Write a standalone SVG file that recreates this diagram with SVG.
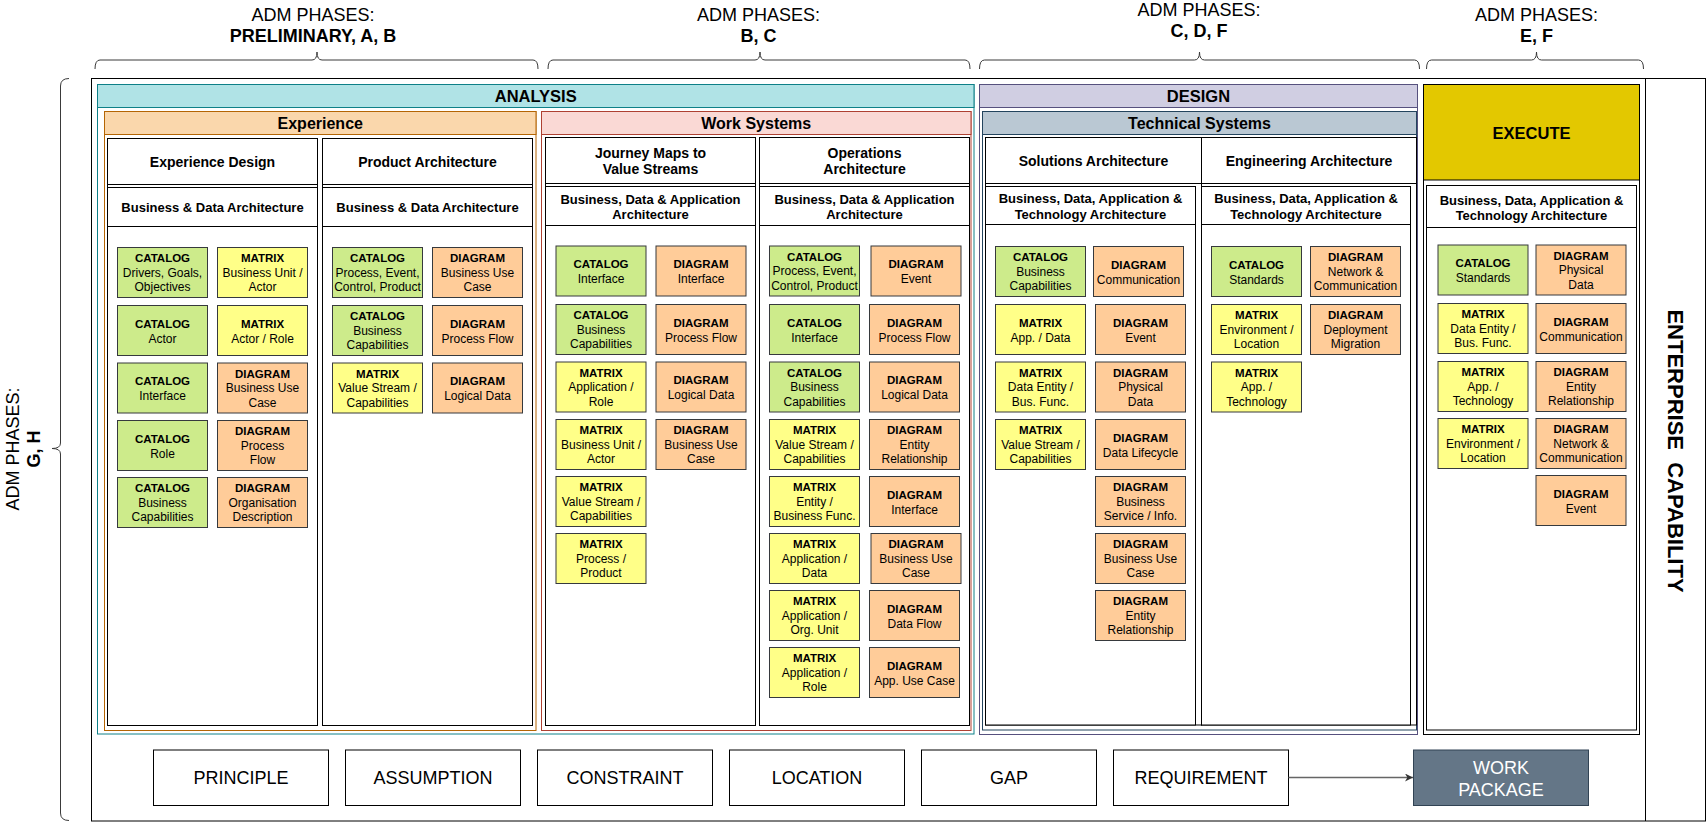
<svg xmlns="http://www.w3.org/2000/svg" width="1706" height="824" viewBox="0 0 1706 824">
<defs>
<style>
text{font-family:"Liberation Sans",Arial,Helvetica,sans-serif;fill:#000}
.m{text-anchor:middle}
.cat{fill:#cdeb8b;stroke:#36393d;stroke-width:1}
.mat{fill:#ffff88;stroke:#36393d;stroke-width:1}
.dia{fill:#ffcc99;stroke:#36393d;stroke-width:1}
.c text{text-anchor:middle;font-size:12px}
.k{font-weight:bold;font-size:11.5px}
.box{fill:#fff;stroke:#000;stroke-width:1}
.ln{fill:none;stroke:#000;stroke-width:1}
.br{fill:none;stroke:#3a3a3a;stroke-width:1}
.top{font-size:18px;text-anchor:middle}
.sec{font-size:16.5px;font-weight:bold;text-anchor:middle}
.sec2{font-size:16px;font-weight:bold;text-anchor:middle}
.col{font-size:14px;font-weight:bold;text-anchor:middle}
.sub{font-size:13px;font-weight:bold;text-anchor:middle}
.bot{font-size:18px;text-anchor:middle}
</style>
<marker id="arr" viewBox="0 0 10 10" refX="10" refY="5" markerWidth="8" markerHeight="8" markerUnits="userSpaceOnUse" orient="auto">
<path d="M0,0 L10,5 L0,10 L3,5 z" fill="#333"/>
</marker>
</defs>
<rect width="1706" height="824" fill="#fff"/>

<g id="phase-labels">
<text class="top" x="313" y="21">ADM PHASES:</text>
<text class="top" x="313" y="42" font-weight="bold">PRELIMINARY, A, B</text>
<text class="top" x="758.5" y="21">ADM PHASES:</text>
<text class="top" x="758.5" y="42" font-weight="bold">B, C</text>
<text class="top" x="1199" y="16">ADM PHASES:</text>
<text class="top" x="1199" y="37" font-weight="bold">C, D, F</text>
<text class="top" x="1536.5" y="21">ADM PHASES:</text>
<text class="top" x="1536.5" y="42" font-weight="bold">E, F</text>
<text class="top" transform="translate(18.5,449) rotate(-90)" x="0" y="0">ADM PHASES:</text>
<text class="top" transform="translate(40,449) rotate(-90)" x="0" y="0" font-weight="bold">G, H</text>
</g>

<g id="brackets">
<path class="br" d="M95,69 Q95,60 100,60 L312,60 Q317,60 317,52 Q317,60 322,60 L533,60 Q538,60 538,69"/>
<path class="br" d="M548,69 Q548,60 553,60 L755,60 Q760,60 760,52 Q760,60 765,60 L965,60 Q970,60 970,69"/>
<path class="br" d="M979.5,69 Q979.5,60 984.5,60 L1194.5,60 Q1199.5,60 1199.5,52 Q1199.5,60 1204.5,60 L1414.5,60 Q1419.5,60 1419.5,69"/>
<path class="br" d="M1426.5,69 Q1426.5,60 1431.5,60 L1531.5,60 Q1536.5,60 1536.5,52 Q1536.5,60 1541.5,60 L1638.5,60 Q1643.5,60 1643.5,69"/>
<path class="br" d="M69,78.5 Q60.5,78.5 60.5,86 L60.5,443 Q60.5,448.5 52,448.5 Q60.5,448.5 60.5,454 L60.5,813 Q60.5,820.5 69,820.5"/>
</g>

<g id="enterprise-capability">
<rect class="box" x="91.5" y="78.5" width="1614" height="742.5"/>
<line class="ln" x1="1645.5" y1="78.5" x2="1645.5" y2="821"/>
<text transform="translate(1668,451) rotate(90)" x="0" y="0" text-anchor="middle" font-size="22" font-weight="bold" xml:space="preserve">ENTERPRISE  CAPABILITY</text>
</g>

<g id="analysis">
<rect x="97.5" y="84.5" width="876.5" height="649.5" fill="#fff" stroke="#0e8088"/>
<rect x="97.5" y="84.5" width="876.5" height="23" fill="#b0e3e6" stroke="#0e8088"/>
<text class="sec" x="535.75" y="101.5">ANALYSIS</text>
</g>
<g id="experience">
<rect x="104.5" y="111.5" width="431.5" height="619" fill="#fff" stroke="#b46504"/>
<rect x="104.5" y="111.5" width="431.5" height="23" fill="#fad7ac" stroke="#b46504"/>
<text class="sec2" x="320.25" y="129">Experience</text>
</g>
<g id="work-systems">
<rect x="541.5" y="111.5" width="429.5" height="619" fill="#fff" stroke="#ae4132"/>
<rect x="541.5" y="111.5" width="429.5" height="23" fill="#fad9d5" stroke="#ae4132"/>
<text class="sec2" x="756.25" y="129">Work Systems</text>
</g>
<g id="design">
<rect x="979.5" y="84.5" width="438" height="650" fill="#fff" stroke="#56517e"/>
<rect x="979.5" y="84.5" width="438" height="23" fill="#d0cee2" stroke="#56517e"/>
<text class="sec" x="1198.5" y="101.5">DESIGN</text>
</g>
<g id="technical-systems">
<rect x="982.5" y="111.5" width="434" height="618.5" fill="#fff" stroke="#23445d"/>
<rect x="982.5" y="111.5" width="434" height="23" fill="#bac8d3" stroke="#23445d"/>
<text class="sec2" x="1199.5" y="129">Technical Systems</text>
</g>
<g id="execute">
<rect class="box" x="1423.5" y="84.5" width="216" height="650"/>
<rect x="1423.5" y="84.5" width="216" height="95.5" fill="#e3c800" stroke="#000"/>
<text class="sec" x="1531.5" y="138.5">EXECUTE</text>
<rect class="box" x="1426.5" y="185.5" width="210" height="544.5"/>
<line class="ln" x1="1426.5" y1="227.5" x2="1636.5" y2="227.5"/>
<text class="sub" x="1531.5" y="204.5">Business, Data, Application &amp;</text>
<text class="sub" x="1531.5" y="219.8">Technology Architecture</text>
</g>

<g id="col-experience-design">
<rect class="box" x="107.5" y="138.5" width="210" height="587"/>
<line class="ln" x1="107.5" y1="184.5" x2="317.5" y2="184.5"/>
<line class="ln" x1="107.5" y1="187.5" x2="317.5" y2="187.5"/>
<line class="ln" x1="107.5" y1="226.5" x2="317.5" y2="226.5"/>
<text class="col" x="212.5" y="166.5">Experience Design</text>
<text class="sub" x="212.5" y="211.5">Business &amp; Data Architecture</text>
</g>
<g id="col-product-architecture">
<rect class="box" x="322.5" y="138.5" width="210" height="587"/>
<line class="ln" x1="322.5" y1="184.5" x2="532.5" y2="184.5"/>
<line class="ln" x1="322.5" y1="187.5" x2="532.5" y2="187.5"/>
<line class="ln" x1="322.5" y1="226.5" x2="532.5" y2="226.5"/>
<text class="col" x="427.5" y="166.5">Product Architecture</text>
<text class="sub" x="427.5" y="211.5">Business &amp; Data Architecture</text>
</g>
<g id="col-journey-maps">
<rect class="box" x="545.5" y="137.5" width="210" height="588"/>
<line class="ln" x1="545.5" y1="183.5" x2="755.5" y2="183.5"/>
<line class="ln" x1="545.5" y1="186.5" x2="755.5" y2="186.5"/>
<line class="ln" x1="545.5" y1="225.5" x2="755.5" y2="225.5"/>
<text class="col" x="650.5" y="157.5">Journey Maps to</text>
<text class="col" x="650.5" y="174">Value Streams</text>
<text class="sub" x="650.5" y="203.5">Business, Data &amp; Application</text>
<text class="sub" x="650.5" y="219.3">Architecture</text>
</g>
<g id="col-operations-architecture">
<rect class="box" x="759.5" y="137.5" width="210" height="588"/>
<line class="ln" x1="759.5" y1="183.5" x2="969.5" y2="183.5"/>
<line class="ln" x1="759.5" y1="186.5" x2="969.5" y2="186.5"/>
<line class="ln" x1="759.5" y1="225.5" x2="969.5" y2="225.5"/>
<text class="col" x="864.5" y="157.5">Operations</text>
<text class="col" x="864.5" y="174">Architecture</text>
<text class="sub" x="864.5" y="203.5">Business, Data &amp; Application</text>
<text class="sub" x="864.5" y="219.3">Architecture</text>
</g>
<g id="col-solutions-architecture">
<rect class="box" x="985.5" y="137.5" width="216" height="587.5"/>
<line class="ln" x1="985.5" y1="183.5" x2="1201.5" y2="183.5"/>
<rect class="box" x="985.5" y="186.5" width="210" height="538.5"/>
<line class="ln" x1="985.5" y1="224.5" x2="1195.5" y2="224.5"/>
<text class="col" x="1093.5" y="165.5">Solutions Architecture</text>
<text class="sub" x="1090.5" y="202.6">Business, Data, Application &amp;</text>
<text class="sub" x="1090.5" y="218.6">Technology Architecture</text>
</g>
<g id="col-engineering-architecture">
<rect class="box" x="1201.5" y="137.5" width="215" height="587.5"/>
<line class="ln" x1="1201.5" y1="183.5" x2="1416.5" y2="183.5"/>
<rect class="box" x="1201.5" y="186.5" width="209" height="538.5"/>
<line class="ln" x1="1201.5" y1="224.5" x2="1410.5" y2="224.5"/>
<text class="col" x="1309" y="165.5">Engineering Architecture</text>
<text class="sub" x="1306" y="202.6">Business, Data, Application &amp;</text>
<text class="sub" x="1306" y="218.6">Technology Architecture</text>
</g>

<!-- Experience Design cards -->
<g id="e1" class="c" transform="translate(117.5,247.5)"><rect class="cat" width="90" height="50"/><text><tspan class="k" x="45" y="14.8">CATALOG</tspan><tspan x="45" y="29.3">Drivers, Goals,</tspan><tspan x="45" y="43.8">Objectives</tspan></text></g>
<g id="e2" class="c" transform="translate(217.5,247.5)"><rect class="mat" width="90" height="50"/><text><tspan class="k" x="45" y="14.8">MATRIX</tspan><tspan x="45" y="29.3">Business Unit /</tspan><tspan x="45" y="43.8">Actor</tspan></text></g>
<g id="e3" class="c" transform="translate(117.5,305.5)"><rect class="cat" width="90" height="50"/><text><tspan class="k" x="45" y="22.2">CATALOG</tspan><tspan x="45" y="37.2">Actor</tspan></text></g>
<g id="e4" class="c" transform="translate(217.5,305.5)"><rect class="mat" width="90" height="50"/><text><tspan class="k" x="45" y="22.2">MATRIX</tspan><tspan x="45" y="37.2">Actor / Role</tspan></text></g>
<g id="e5" class="c" transform="translate(117.5,363)"><rect class="cat" width="90" height="50"/><text><tspan class="k" x="45" y="22.2">CATALOG</tspan><tspan x="45" y="37.2">Interface</tspan></text></g>
<g id="e6" class="c" transform="translate(217.5,363)"><rect class="dia" width="90" height="50"/><text><tspan class="k" x="45" y="14.8">DIAGRAM</tspan><tspan x="45" y="29.3">Business Use</tspan><tspan x="45" y="43.8">Case</tspan></text></g>
<g id="e7" class="c" transform="translate(117.5,420.5)"><rect class="cat" width="90" height="50"/><text><tspan class="k" x="45" y="22.2">CATALOG</tspan><tspan x="45" y="37.2">Role</tspan></text></g>
<g id="e8" class="c" transform="translate(217.5,420.5)"><rect class="dia" width="90" height="50"/><text><tspan class="k" x="45" y="14.8">DIAGRAM</tspan><tspan x="45" y="29.3">Process</tspan><tspan x="45" y="43.8">Flow</tspan></text></g>
<g id="e9" class="c" transform="translate(117.5,477.5)"><rect class="cat" width="90" height="50"/><text><tspan class="k" x="45" y="14.8">CATALOG</tspan><tspan x="45" y="29.3">Business</tspan><tspan x="45" y="43.8">Capabilities</tspan></text></g>
<g id="e10" class="c" transform="translate(217.5,477.5)"><rect class="dia" width="90" height="50"/><text><tspan class="k" x="45" y="14.8">DIAGRAM</tspan><tspan x="45" y="29.3">Organisation</tspan><tspan x="45" y="43.8">Description</tspan></text></g>

<!-- Product Architecture cards -->
<g id="p1" class="c" transform="translate(332.5,247.5)"><rect class="cat" width="90" height="50"/><text><tspan class="k" x="45" y="14.8">CATALOG</tspan><tspan x="45" y="29.3">Process, Event,</tspan><tspan x="45" y="43.8">Control, Product</tspan></text></g>
<g id="p2" class="c" transform="translate(432.5,247.5)"><rect class="dia" width="90" height="50"/><text><tspan class="k" x="45" y="14.8">DIAGRAM</tspan><tspan x="45" y="29.3">Business Use</tspan><tspan x="45" y="43.8">Case</tspan></text></g>
<g id="p3" class="c" transform="translate(332.5,305.5)"><rect class="cat" width="90" height="50"/><text><tspan class="k" x="45" y="14.8">CATALOG</tspan><tspan x="45" y="29.3">Business</tspan><tspan x="45" y="43.8">Capabilities</tspan></text></g>
<g id="p4" class="c" transform="translate(432.5,305.5)"><rect class="dia" width="90" height="50"/><text><tspan class="k" x="45" y="22.2">DIAGRAM</tspan><tspan x="45" y="37.2">Process Flow</tspan></text></g>
<g id="p5" class="c" transform="translate(332.5,363)"><rect class="mat" width="90" height="50"/><text><tspan class="k" x="45" y="14.8">MATRIX</tspan><tspan x="45" y="29.3">Value Stream /</tspan><tspan x="45" y="43.8">Capabilities</tspan></text></g>
<g id="p6" class="c" transform="translate(432.5,363)"><rect class="dia" width="90" height="50"/><text><tspan class="k" x="45" y="22.2">DIAGRAM</tspan><tspan x="45" y="37.2">Logical Data</tspan></text></g>

<!-- Journey Maps cards -->
<g id="j1" class="c" transform="translate(556,246)"><rect class="cat" width="90" height="50"/><text><tspan class="k" x="45" y="22.2">CATALOG</tspan><tspan x="45" y="37.2">Interface</tspan></text></g>
<g id="j2" class="c" transform="translate(656,246)"><rect class="dia" width="90" height="50"/><text><tspan class="k" x="45" y="22.2">DIAGRAM</tspan><tspan x="45" y="37.2">Interface</tspan></text></g>
<g id="j3" class="c" transform="translate(556,304.5)"><rect class="cat" width="90" height="50"/><text><tspan class="k" x="45" y="14.8">CATALOG</tspan><tspan x="45" y="29.3">Business</tspan><tspan x="45" y="43.8">Capabilities</tspan></text></g>
<g id="j4" class="c" transform="translate(656,304.5)"><rect class="dia" width="90" height="50"/><text><tspan class="k" x="45" y="22.2">DIAGRAM</tspan><tspan x="45" y="37.2">Process Flow</tspan></text></g>
<g id="j5" class="c" transform="translate(556,362)"><rect class="mat" width="90" height="50"/><text><tspan class="k" x="45" y="14.8">MATRIX</tspan><tspan x="45" y="29.3">Application /</tspan><tspan x="45" y="43.8">Role</tspan></text></g>
<g id="j6" class="c" transform="translate(656,362)"><rect class="dia" width="90" height="50"/><text><tspan class="k" x="45" y="22.2">DIAGRAM</tspan><tspan x="45" y="37.2">Logical Data</tspan></text></g>
<g id="j7" class="c" transform="translate(556,419.5)"><rect class="mat" width="90" height="50"/><text><tspan class="k" x="45" y="14.8">MATRIX</tspan><tspan x="45" y="29.3">Business Unit /</tspan><tspan x="45" y="43.8">Actor</tspan></text></g>
<g id="j8" class="c" transform="translate(656,419.5)"><rect class="dia" width="90" height="50"/><text><tspan class="k" x="45" y="14.8">DIAGRAM</tspan><tspan x="45" y="29.3">Business Use</tspan><tspan x="45" y="43.8">Case</tspan></text></g>
<g id="j9" class="c" transform="translate(556,476.5)"><rect class="mat" width="90" height="50"/><text><tspan class="k" x="45" y="14.8">MATRIX</tspan><tspan x="45" y="29.3">Value Stream /</tspan><tspan x="45" y="43.8">Capabilities</tspan></text></g>
<g id="j10" class="c" transform="translate(556,533.5)"><rect class="mat" width="90" height="50"/><text><tspan class="k" x="45" y="14.8">MATRIX</tspan><tspan x="45" y="29.3">Process /</tspan><tspan x="45" y="43.8">Product</tspan></text></g>

<!-- Operations Architecture cards -->
<g id="o1" class="c" transform="translate(769.5,246)"><rect class="cat" width="90" height="50"/><text><tspan class="k" x="45" y="14.8">CATALOG</tspan><tspan x="45" y="29.3">Process, Event,</tspan><tspan x="45" y="43.8">Control, Product</tspan></text></g>
<g id="o2" class="c" transform="translate(871,246)"><rect class="dia" width="90" height="50"/><text><tspan class="k" x="45" y="22.2">DIAGRAM</tspan><tspan x="45" y="37.2">Event</tspan></text></g>
<g id="o3" class="c" transform="translate(769.5,304.5)"><rect class="cat" width="90" height="50"/><text><tspan class="k" x="45" y="22.2">CATALOG</tspan><tspan x="45" y="37.2">Interface</tspan></text></g>
<g id="o4" class="c" transform="translate(869.5,304.5)"><rect class="dia" width="90" height="50"/><text><tspan class="k" x="45" y="22.2">DIAGRAM</tspan><tspan x="45" y="37.2">Process Flow</tspan></text></g>
<g id="o5" class="c" transform="translate(769.5,362)"><rect class="cat" width="90" height="50"/><text><tspan class="k" x="45" y="14.8">CATALOG</tspan><tspan x="45" y="29.3">Business</tspan><tspan x="45" y="43.8">Capabilities</tspan></text></g>
<g id="o6" class="c" transform="translate(869.5,362)"><rect class="dia" width="90" height="50"/><text><tspan class="k" x="45" y="22.2">DIAGRAM</tspan><tspan x="45" y="37.2">Logical Data</tspan></text></g>
<g id="o7" class="c" transform="translate(769.5,419.5)"><rect class="mat" width="90" height="50"/><text><tspan class="k" x="45" y="14.8">MATRIX</tspan><tspan x="45" y="29.3">Value Stream /</tspan><tspan x="45" y="43.8">Capabilities</tspan></text></g>
<g id="o8" class="c" transform="translate(869.5,419.5)"><rect class="dia" width="90" height="50"/><text><tspan class="k" x="45" y="14.8">DIAGRAM</tspan><tspan x="45" y="29.3">Entity</tspan><tspan x="45" y="43.8">Relationship</tspan></text></g>
<g id="o9" class="c" transform="translate(769.5,476.5)"><rect class="mat" width="90" height="50"/><text><tspan class="k" x="45" y="14.8">MATRIX</tspan><tspan x="45" y="29.3">Entity /</tspan><tspan x="45" y="43.8">Business Func.</tspan></text></g>
<g id="o10" class="c" transform="translate(869.5,476.5)"><rect class="dia" width="90" height="50"/><text><tspan class="k" x="45" y="22.2">DIAGRAM</tspan><tspan x="45" y="37.2">Interface</tspan></text></g>
<g id="o11" class="c" transform="translate(769.5,533.5)"><rect class="mat" width="90" height="50"/><text><tspan class="k" x="45" y="14.8">MATRIX</tspan><tspan x="45" y="29.3">Application /</tspan><tspan x="45" y="43.8">Data</tspan></text></g>
<g id="o12" class="c" transform="translate(871,533.5)"><rect class="dia" width="90" height="50"/><text><tspan class="k" x="45" y="14.8">DIAGRAM</tspan><tspan x="45" y="29.3">Business Use</tspan><tspan x="45" y="43.8">Case</tspan></text></g>
<g id="o13" class="c" transform="translate(769.5,590.5)"><rect class="mat" width="90" height="50"/><text><tspan class="k" x="45" y="14.8">MATRIX</tspan><tspan x="45" y="29.3">Application /</tspan><tspan x="45" y="43.8">Org. Unit</tspan></text></g>
<g id="o14" class="c" transform="translate(869.5,590.5)"><rect class="dia" width="90" height="50"/><text><tspan class="k" x="45" y="22.2">DIAGRAM</tspan><tspan x="45" y="37.2">Data Flow</tspan></text></g>
<g id="o15" class="c" transform="translate(769.5,647.5)"><rect class="mat" width="90" height="50"/><text><tspan class="k" x="45" y="14.8">MATRIX</tspan><tspan x="45" y="29.3">Application /</tspan><tspan x="45" y="43.8">Role</tspan></text></g>
<g id="o16" class="c" transform="translate(869.5,647.5)"><rect class="dia" width="90" height="50"/><text><tspan class="k" x="45" y="22.2">DIAGRAM</tspan><tspan x="45" y="37.2">App. Use Case</tspan></text></g>

<!-- Solutions Architecture cards -->
<g id="s1" class="c" transform="translate(995.5,246.5)"><rect class="cat" width="90" height="50"/><text><tspan class="k" x="45" y="14.8">CATALOG</tspan><tspan x="45" y="29.3">Business</tspan><tspan x="45" y="43.8">Capabilities</tspan></text></g>
<g id="s2" class="c" transform="translate(1093.5,246.5)"><rect class="dia" width="90" height="50"/><text><tspan class="k" x="45" y="22.2">DIAGRAM</tspan><tspan x="45" y="37.2">Communication</tspan></text></g>
<g id="s3" class="c" transform="translate(995.5,304.5)"><rect class="mat" width="90" height="50"/><text><tspan class="k" x="45" y="22.2">MATRIX</tspan><tspan x="45" y="37.2">App. / Data</tspan></text></g>
<g id="s4" class="c" transform="translate(1095.5,304.5)"><rect class="dia" width="90" height="50"/><text><tspan class="k" x="45" y="22.2">DIAGRAM</tspan><tspan x="45" y="37.2">Event</tspan></text></g>
<g id="s5" class="c" transform="translate(995.5,362)"><rect class="mat" width="90" height="50"/><text><tspan class="k" x="45" y="14.8">MATRIX</tspan><tspan x="45" y="29.3">Data Entity /</tspan><tspan x="45" y="43.8">Bus. Func.</tspan></text></g>
<g id="s6" class="c" transform="translate(1095.5,362)"><rect class="dia" width="90" height="50"/><text><tspan class="k" x="45" y="14.8">DIAGRAM</tspan><tspan x="45" y="29.3">Physical</tspan><tspan x="45" y="43.8">Data</tspan></text></g>
<g id="s7" class="c" transform="translate(995.5,419.5)"><rect class="mat" width="90" height="50"/><text><tspan class="k" x="45" y="14.8">MATRIX</tspan><tspan x="45" y="29.3">Value Stream /</tspan><tspan x="45" y="43.8">Capabilities</tspan></text></g>
<g id="s8" class="c" transform="translate(1095.5,419.5)"><rect class="dia" width="90" height="50"/><text><tspan class="k" x="45" y="22.2">DIAGRAM</tspan><tspan x="45" y="37.2">Data Lifecycle</tspan></text></g>
<g id="s9" class="c" transform="translate(1095.5,476.5)"><rect class="dia" width="90" height="50"/><text><tspan class="k" x="45" y="14.8">DIAGRAM</tspan><tspan x="45" y="29.3">Business</tspan><tspan x="45" y="43.8">Service / Info.</tspan></text></g>
<g id="s10" class="c" transform="translate(1095.5,533.5)"><rect class="dia" width="90" height="50"/><text><tspan class="k" x="45" y="14.8">DIAGRAM</tspan><tspan x="45" y="29.3">Business Use</tspan><tspan x="45" y="43.8">Case</tspan></text></g>
<g id="s11" class="c" transform="translate(1095.5,590.5)"><rect class="dia" width="90" height="50"/><text><tspan class="k" x="45" y="14.8">DIAGRAM</tspan><tspan x="45" y="29.3">Entity</tspan><tspan x="45" y="43.8">Relationship</tspan></text></g>

<!-- Engineering Architecture cards -->
<g id="g1" class="c" transform="translate(1211.5,246.5)"><rect class="cat" width="90" height="50"/><text><tspan class="k" x="45" y="22.2">CATALOG</tspan><tspan x="45" y="37.2">Standards</tspan></text></g>
<g id="g2" class="c" transform="translate(1310.5,246.5)"><rect class="dia" width="90" height="50"/><text><tspan class="k" x="45" y="14.8">DIAGRAM</tspan><tspan x="45" y="29.3">Network &amp;</tspan><tspan x="45" y="43.8">Communication</tspan></text></g>
<g id="g3" class="c" transform="translate(1211.5,304.5)"><rect class="mat" width="90" height="50"/><text><tspan class="k" x="45" y="14.8">MATRIX</tspan><tspan x="45" y="29.3">Environment /</tspan><tspan x="45" y="43.8">Location</tspan></text></g>
<g id="g4" class="c" transform="translate(1310.5,304.5)"><rect class="dia" width="90" height="50"/><text><tspan class="k" x="45" y="14.8">DIAGRAM</tspan><tspan x="45" y="29.3">Deployment</tspan><tspan x="45" y="43.8">Migration</tspan></text></g>
<g id="g5" class="c" transform="translate(1211.5,362)"><rect class="mat" width="90" height="50"/><text><tspan class="k" x="45" y="14.8">MATRIX</tspan><tspan x="45" y="29.3">App. /</tspan><tspan x="45" y="43.8">Technology</tspan></text></g>

<!-- Execute cards -->
<g id="x1" class="c" transform="translate(1438,245)"><rect class="cat" width="90" height="50"/><text><tspan class="k" x="45" y="22.2">CATALOG</tspan><tspan x="45" y="37.2">Standards</tspan></text></g>
<g id="x2" class="c" transform="translate(1536,245)"><rect class="dia" width="90" height="50"/><text><tspan class="k" x="45" y="14.8">DIAGRAM</tspan><tspan x="45" y="29.3">Physical</tspan><tspan x="45" y="43.8">Data</tspan></text></g>
<g id="x3" class="c" transform="translate(1438,303.5)"><rect class="mat" width="90" height="50"/><text><tspan class="k" x="45" y="14.8">MATRIX</tspan><tspan x="45" y="29.3">Data Entity /</tspan><tspan x="45" y="43.8">Bus. Func.</tspan></text></g>
<g id="x4" class="c" transform="translate(1536,303.5)"><rect class="dia" width="90" height="50"/><text><tspan class="k" x="45" y="22.2">DIAGRAM</tspan><tspan x="45" y="37.2">Communication</tspan></text></g>
<g id="x5" class="c" transform="translate(1438,361.5)"><rect class="mat" width="90" height="50"/><text><tspan class="k" x="45" y="14.8">MATRIX</tspan><tspan x="45" y="29.3">App. /</tspan><tspan x="45" y="43.8">Technology</tspan></text></g>
<g id="x6" class="c" transform="translate(1536,361.5)"><rect class="dia" width="90" height="50"/><text><tspan class="k" x="45" y="14.8">DIAGRAM</tspan><tspan x="45" y="29.3">Entity</tspan><tspan x="45" y="43.8">Relationship</tspan></text></g>
<g id="x7" class="c" transform="translate(1438,418.5)"><rect class="mat" width="90" height="50"/><text><tspan class="k" x="45" y="14.8">MATRIX</tspan><tspan x="45" y="29.3">Environment /</tspan><tspan x="45" y="43.8">Location</tspan></text></g>
<g id="x8" class="c" transform="translate(1536,418.5)"><rect class="dia" width="90" height="50"/><text><tspan class="k" x="45" y="14.8">DIAGRAM</tspan><tspan x="45" y="29.3">Network &amp;</tspan><tspan x="45" y="43.8">Communication</tspan></text></g>
<g id="x9" class="c" transform="translate(1536,475.5)"><rect class="dia" width="90" height="50"/><text><tspan class="k" x="45" y="22.2">DIAGRAM</tspan><tspan x="45" y="37.2">Event</tspan></text></g>

<!-- Bottom row -->
<g id="principle"><rect class="box" x="153.5" y="750" width="175" height="55.5"/><text class="bot" x="241" y="784">PRINCIPLE</text></g>
<g id="assumption"><rect class="box" x="345.5" y="750" width="175" height="55.5"/><text class="bot" x="433" y="784">ASSUMPTION</text></g>
<g id="constraint"><rect class="box" x="537.5" y="750" width="175" height="55.5"/><text class="bot" x="625" y="784">CONSTRAINT</text></g>
<g id="location"><rect class="box" x="729.5" y="750" width="175" height="55.5"/><text class="bot" x="817" y="784">LOCATION</text></g>
<g id="gap"><rect class="box" x="921.5" y="750" width="175" height="55.5"/><text class="bot" x="1009" y="784">GAP</text></g>
<g id="requirement"><rect class="box" x="1113.5" y="750" width="175" height="55.5"/><text class="bot" x="1201" y="784">REQUIREMENT</text></g>
<g id="work-package"><rect x="1413.5" y="750" width="175" height="55.5" fill="#647687" stroke="#314354"/><text class="bot" x="1501" y="773.5" fill="#fff" style="fill:#fff">WORK</text><text class="bot" x="1501" y="795.5" style="fill:#fff">PACKAGE</text></g>

<g id="connectors">
<line x1="1288.5" y1="777.5" x2="1413" y2="777.5" stroke="#666" stroke-width="1.3" marker-end="url(#arr)"/>
</g>
</svg>
